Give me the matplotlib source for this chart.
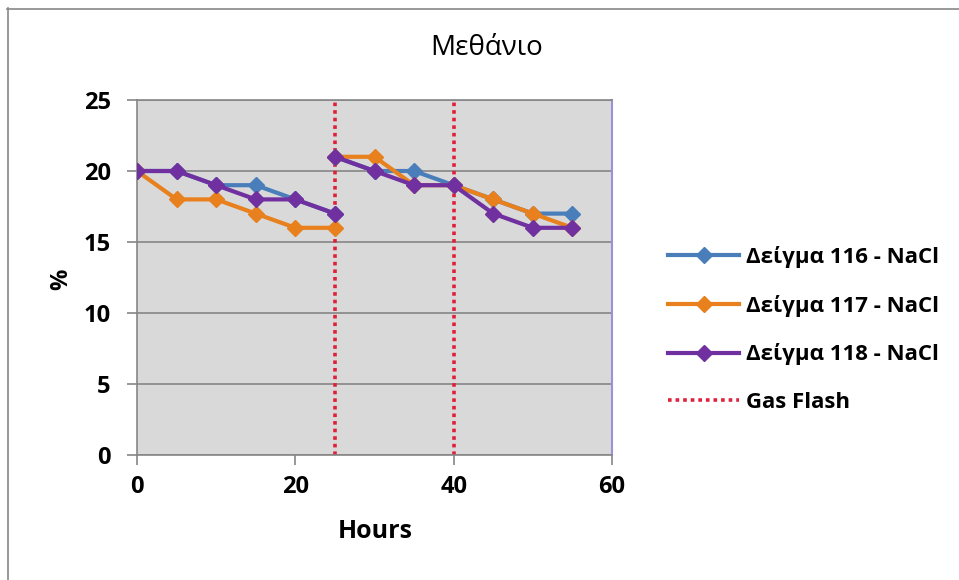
import matplotlib
matplotlib.use("Agg")
import matplotlib.pyplot as plt
from matplotlib.lines import Line2D

plt.rcParams['font.family'] = ['Open Sans', 'DejaVu Sans']

title = "Μεθάνιο"
x_label = "Hours"
y_label = "%"

hours_phase1 = [0, 5, 10, 15, 20, 25]
hours_phase2 = [25, 30, 35, 40, 45, 50, 55]

series_names = ["Δείγμα 116 - NaCl", "Δείγμα 117 - NaCl", "Δείγμα 118 - NaCl"]
s116_phase1 = [20, 20, 19, 19, 18, 17]
s116_phase2 = [21, 20, 20, 19, 18, 17, 17]
s117_phase1 = [20, 18, 18, 17, 16, 16]
s117_phase2 = [21, 21, 19, 19, 18, 17, 16]
s118_phase1 = [20, 20, 19, 18, 18, 17]
s118_phase2 = [21, 20, 19, 19, 17, 16, 16]

gas_flash_label = "Gas Flash"
gas_flash_hours = [25, 40]

x_ticks = [0, 20, 40, 60]
y_ticks = [0, 5, 10, 15, 20, 25]

colors = ['#4a7ebb', '#e8801e', '#7030a0']
flash_color = '#e0203a'

fig = plt.figure(figsize=(9.59, 5.80), dpi=100)
ax = fig.add_axes([137/959, 1-455/580, (612-137)/959, (455-100)/580])
ax.set_facecolor('#d9d9d9')

ax.set_xlim(0, 60)
ax.set_ylim(0, 25)
ax.set_yticks(y_ticks)
ax.set_xticks(x_ticks)
ax.yaxis.grid(True, color='#868686', linewidth=1.2)
ax.set_axisbelow(True)

handles = []
data = [(s116_phase1, s116_phase2), (s117_phase1, s117_phase2), (s118_phase1, s118_phase2)]
for (p1, p2), c, name in zip(data, colors, series_names):
    kw = dict(color=c, linewidth=3, marker='D', markersize=8, zorder=3)
    ax.plot(hours_phase1, p1, **kw)
    h, = ax.plot(hours_phase2, p2, label=name, **kw)
    handles.append(h)

fl = None
for xf in gas_flash_hours:
    fl = ax.axvline(xf, color=flash_color, linewidth=2.6, linestyle=(0, (1, 1.1)),
                    dash_capstyle='butt', zorder=2.5)
fl.set_label(gas_flash_label)
handles.append(fl)

for side in ['left', 'bottom', 'top']:
    ax.spines[side].set_color('#868686')
    ax.spines[side].set_linewidth(1.2)
ax.spines['right'].set_color('#a090d8')
ax.spines['right'].set_linewidth(1.5)

ax.tick_params(axis='both', direction='out', length=7, width=1.2, color='#868686',
               labelsize=17)
ax.tick_params(axis='y', pad=12)
ax.tick_params(axis='x', pad=7.5)
for lab in ax.get_xticklabels() + ax.get_yticklabels():
    lab.set_fontweight('bold')

fig.text(487/959, 1-48/580, title, ha='center', va='center', fontsize=20)
fig.text(375/959, 1-532/580, x_label, ha='center', va='center', fontsize=18, fontweight='bold')
fig.text(61/959, 1-279/580, y_label, ha='center', va='center', fontsize=17,
         fontweight='bold', rotation=90)

leg = fig.legend(handles=handles, loc='center left',
                 bbox_to_anchor=(668/959, 1-329.5/580), frameon=False,
                 prop={'size': 16, 'weight': 'bold'}, handlelength=3.2,
                 handletextpad=0.3, labelspacing=1.2, borderpad=0, borderaxespad=0)

fig.add_artist(Line2D([7.5/959, 7.5/959], [0, 1-8/580], color='#888888', linewidth=1.2))
fig.add_artist(Line2D([7/959, 1], [1-8.5/580, 1-8.5/580], color='#888888', linewidth=1.2))

fig.savefig('out.png', dpi=100)
